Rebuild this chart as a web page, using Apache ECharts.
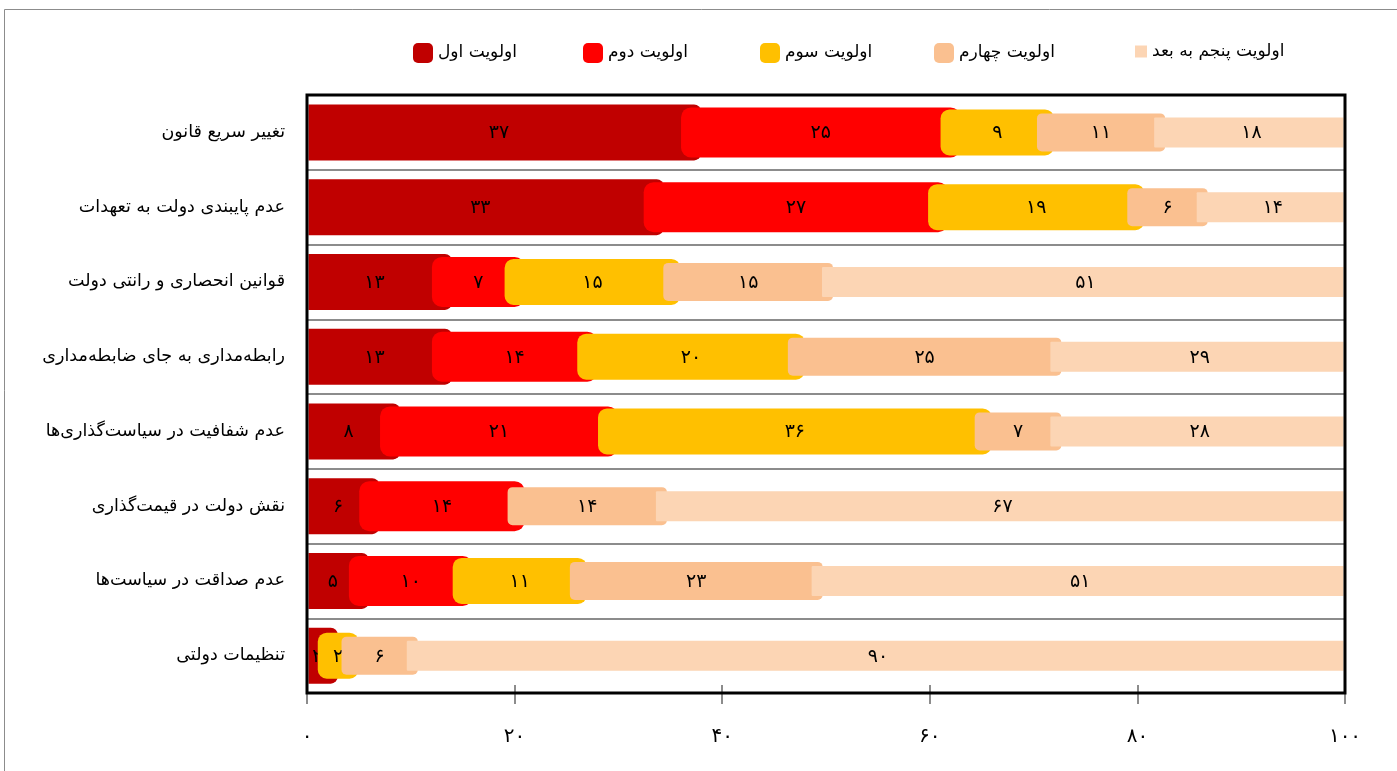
<!DOCTYPE html>
<html>
<head>
<meta charset="utf-8">
<script src="https://cdn.jsdelivr.net/npm/echarts@6/dist/echarts.min.js"></script>
<style>
  html, body { margin: 0; padding: 0; background: #fff; }
  #chart { width: 1397px; height: 771px; }
</style>
</head>
<body>
<div id="chart"></div>
<script>
// ---------- data ----------
const categories = [
  'تغییر سریع قانون',
  'عدم پایبندی دولت به تعهدات',
  'قوانین انحصاری و رانتی دولت',
  'رابطه\u200cمداری به جای ضابطه\u200cمداری',
  'عدم شفافیت در سیاست\u200cگذاری\u200cها',
  'نقش دولت در قیمت\u200cگذاری',
  'عدم صداقت در سیاست\u200cها',
  'تنظیمات دولتی'
];
const seriesNames = ['اولویت اول', 'اولویت دوم', 'اولویت سوم', 'اولویت چهارم', 'اولویت پنجم به بعد'];
// values (labels show them rounded)
const priority1 = [37, 33.4, 13, 13, 8, 6, 5, 2];
const priority2 = [25, 27.4, 7, 14, 21, 14, 10, null];
const priority3 = [9, 18.9, 15, 20, 36, null, 11, 2];
const priority4 = [11, 6.4, 15, 25, 7, 14, 23, 6];
const priority5 = [18, 13.9, 51, 29, 28, 67, 51, 90];
const xTickLabels = ['۰', '۲۰', '۴۰', '۶۰', '۸۰', '۱۰۰'];

// ---------- styles ----------
const FONT = "'DejaVu Sans', 'Noto Sans', sans-serif";
const colors = ['#C00000', '#FF0000', '#FFC000', '#FAC090', '#FCD5B4'];
const barStyle = [
  { h: 56, ext: 10, r: 7 },
  { h: 50, ext: 10, r: 10 },
  { h: 46, ext: 10, r: 9 },
  { h: 38, ext: 7, r: 5 },
  { h: 30, ext: 4, r: 1 }
];
const legendLeft = [413, 583, 760, 934, 1135];

const allSeries = [priority1, priority2, priority3, priority4, priority5];
const faDigits = '۰۱۲۳۴۵۶۷۸۹';
function toFa(n) { return String(Math.round(n)).replace(/[0-9]/g, d => faDigits[+d]); }

function buildData(k) {
  const out = [];
  for (let i = 0; i < categories.length; i++) {
    const v = allSeries[k][i];
    if (v == null) continue;
    let start = 0;
    for (let j = 0; j < k; j++) start += (allSeries[j][i] || 0);
    out.push([i, start, start + v, v]);
  }
  return out;
}

function makeRender(k) {
  const st = barStyle[k];
  return function (params, api) {
    const i = api.value(0), s = api.value(1), e = api.value(2), v = api.value(3);
    const cs = params.coordSys;
    const a = api.coord([s, i]);
    const b = api.coord([e, i]);
    const minX = cs.x + 1.5, maxX = cs.x + cs.width - 1.5;
    let x0 = a[0] - st.ext, x1 = b[0] + st.ext;
    let rl = st.r, rr = st.r;
    if (x0 <= minX) { x0 = minX; rl = 0; }
    if (x1 >= maxX) { x1 = maxX; rr = 0; }
    if (x1 <= x0) return null;
    const cx = (Math.max(a[0], cs.x) + Math.min(b[0], cs.x + cs.width)) / 2;
    return {
      type: 'group',
      children: [
        {
          type: 'rect',
          shape: { x: x0, y: a[1] - st.h / 2, width: x1 - x0, height: st.h, r: [rl, rr, rr, rl] },
          style: { fill: colors[k] }
        },
        {
          type: 'text',
          x: cx, y: a[1] + 1,
          style: {
            text: toFa(v), fill: '#000', fontSize: 19, fontFamily: FONT,
            align: 'center', verticalAlign: 'middle'
          }
        }
      ]
    };
  };
}

const series = seriesNames.map((name, k) => ({
  type: 'custom',
  name: name,
  renderItem: makeRender(k),
  encode: { x: [1, 2], y: 0 },
  itemStyle: { color: colors[k] },
  data: buildData(k)
}));

const legends = seriesNames.map((name, k) => ({
  left: legendLeft[k],
  top: 43,
  padding: 0,
  itemWidth: k === 4 ? 12 : 20,
  itemHeight: k === 4 ? 12 : 20,
  selectedMode: false,
  textStyle: { fontSize: 17, fontFamily: FONT, color: '#000' },
  data: [{ name: name, icon: k === 4 ? 'rect' : 'roundRect', itemStyle: { color: colors[k] } }]
}));

const GRID = { left: 307, right: 52, top: 95, bottom: 78 };

const option = {
  animation: false,
  backgroundColor: '#fff',
  legend: legends,
  grid: { left: GRID.left, right: GRID.right, top: GRID.top, bottom: GRID.bottom, show: false },
  xAxis: {
    type: 'value', min: 0, max: 100, interval: 20,
    offset: -8,
    axisLine: { show: false },
    axisTick: { show: true, length: 19, lineStyle: { color: '#8c8c8c', width: 2 } },
    splitLine: { show: false },
    axisLabel: {
      margin: 42, fontSize: 20, fontFamily: FONT, color: '#000',
      formatter: v => xTickLabels[Math.round(v / 20)]
    }
  },
  yAxis: {
    type: 'category', data: categories, inverse: true,
    axisLine: { show: false },
    axisTick: { show: false },
    axisLabel: { margin: 22, fontSize: 17.5, fontFamily: FONT, color: '#000' },
    splitLine: { show: true, lineStyle: { color: '#8c8c8c', width: 2 } }
  },
  graphic: [
    {
      type: 'rect', z: 100, silent: true,
      shape: { x: 4.5, y: 9.5, width: 1400, height: 800 },
      style: { fill: 'none', stroke: '#8c8c8c', lineWidth: 1 }
    },
    {
      type: 'rect', z: 100, silent: true,
      shape: { x: GRID.left, y: GRID.top, width: 1397 - GRID.left - GRID.right, height: 771 - GRID.top - GRID.bottom },
      style: { fill: 'none', stroke: '#000', lineWidth: 3 }
    }
  ],
  series: series
};

const chart = echarts.init(document.getElementById('chart'), null, { renderer: 'canvas' });
chart.setOption(option);
</script>
</body>
</html>
